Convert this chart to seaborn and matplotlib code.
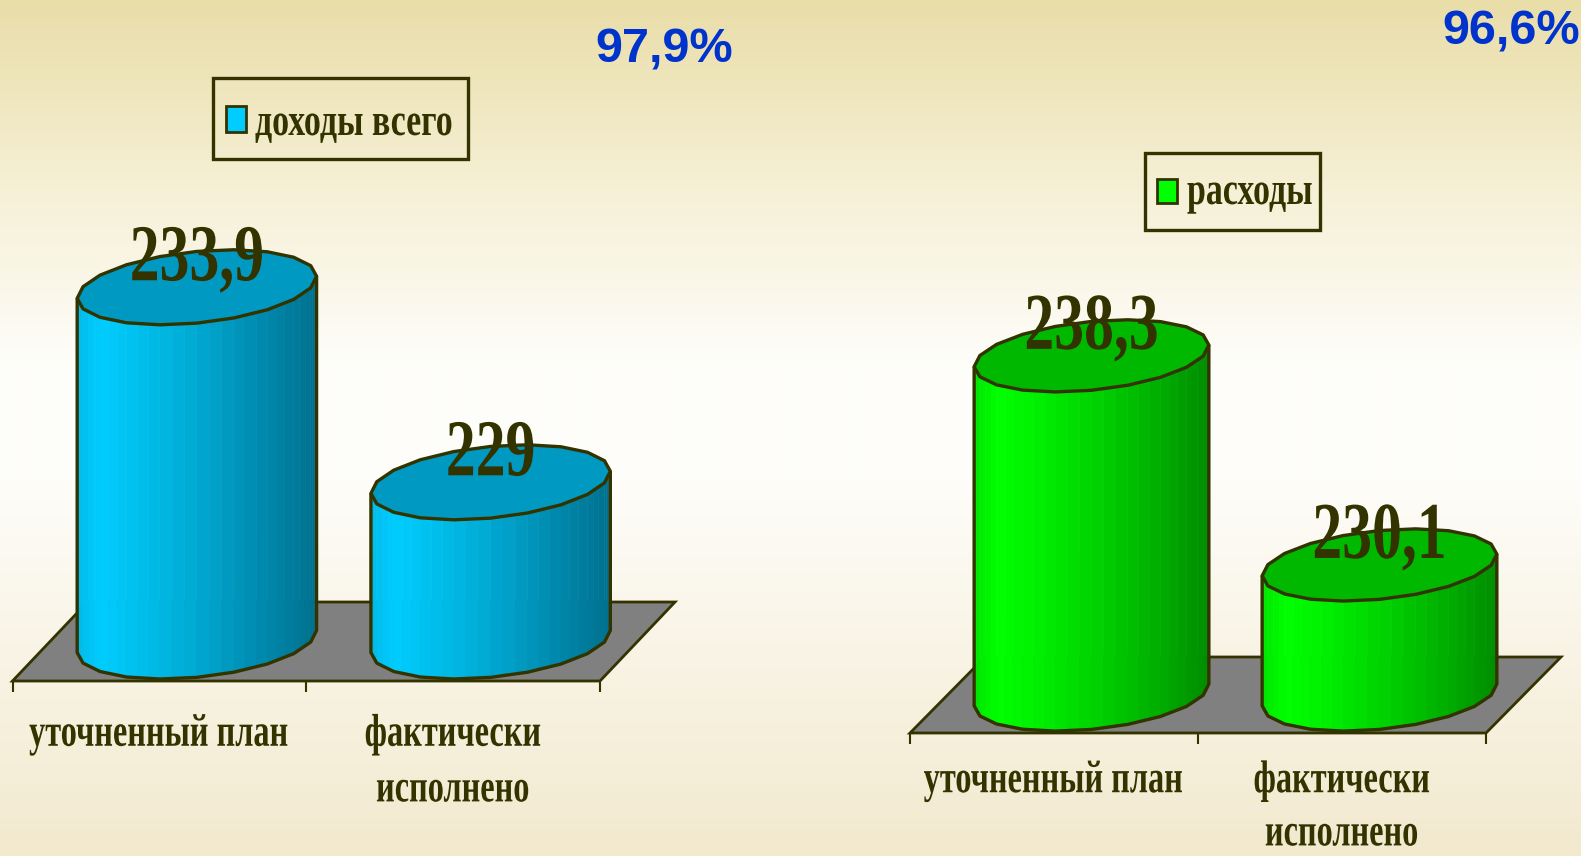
import numpy as np
import pandas as pd
import matplotlib
matplotlib.use("Agg")
import matplotlib.pyplot as plt
import matplotlib.transforms as mtransforms
from matplotlib.patches import Polygon, Rectangle
from matplotlib.collections import PolyCollection
from matplotlib import patheffects
import seaborn as sns

# ---------------- data ----------------
categories = ["уточненный план", "фактически\nисполнено"]
income_values = [233.9, 229.0]
expense_values = [238.3, 230.1]
income_labels = ["233,9", "229"]
expense_labels = ["238,3", "230,1"]
income_series = "доходы всего"
expense_series = "расходы"
income_pct = "97,9%"
expense_pct = "96,6%"
axis_base = 225.0

# ---------------- style ----------------
W, H = 1581, 856
OLIVE = "#333300"
SERIF = ["Liberation Serif", "DejaVu Serif"]
SANS = ["Liberation Sans", "DejaVu Sans"]

sns.set_style("white")

BLUE_SIDE = [(0.0, (0, 186, 232)), (0.1, (0, 204, 255)), (0.3, (0, 188, 232)),
             (0.55, (0, 163, 204)), (0.8, (0, 134, 170)), (1.0, (0, 112, 142))]
BLUE_TOP = "#0099C2"
GREEN_SIDE = [(0.0, (0, 228, 0)), (0.1, (0, 255, 0)), (0.3, (0, 236, 0)),
              (0.55, (0, 206, 0)), (0.8, (0, 172, 0)), (1.0, (0, 140, 0))]
GREEN_TOP = "#00B800"


class Stretch(patheffects.AbstractPathEffect):
    """Stretch glyphs vertically about the baseline (gives a condensed look)."""

    def __init__(self, sy):
        super().__init__()
        self.sy = sy

    def draw_path(self, renderer, gc, tpath, affine, rgbFace=None):
        tr = mtransforms.Affine2D().scale(1.0, self.sy) + affine
        renderer.draw_path(gc, tpath, tr, rgbFace)


def side_color(stops, t):
    ts = [s[0] for s in stops]
    cols = np.array([s[1] for s in stops], float) / 255.0
    return tuple(float(np.interp(t, ts, cols[:, i])) for i in range(3))


fig = plt.figure(figsize=(W / 100, H / 100), dpi=100)

# background gradient
bg = fig.add_axes([0, 0, 1, 1], zorder=-10)
ys = np.arange(H)
stop_y = [0, 190, 370, 480, H - 1]
stop_c = np.array([(233, 221, 168), (246, 240, 214), (254, 254, 251),
                   (254, 253, 249), (242, 233, 206)], float) / 255.0
grad = np.stack([np.interp(ys, stop_y, stop_c[:, i]) for i in range(3)], axis=-1)[:, None, :]
bg.imshow(grad, aspect="auto", extent=(0, 1, 0, 1))
bg.set_axis_off()


def draw_panel(px_left, px_right, px_base, px_per_unit, depth_px, values, labels,
               side_stops, top_color, label_pad, label_ls):
    ax = fig.add_axes([px_left / W, (H - px_base) / H, (px_right - px_left) / W, px_base / H])
    df = pd.DataFrame({"category": categories, "value": values})
    sns.barplot(data=df, x="category", y="value", ax=ax, width=0.815,
                color=side_color(side_stops, 0.3), saturation=1)
    bars = list(ax.patches)
    ax.set_xlim(-0.5, 1.5)
    ax.set_ylim(axis_base, axis_base + px_base / px_per_unit)
    ax.patch.set_alpha(0)
    for s in ax.spines.values():
        s.set_visible(False)
    ax.yaxis.set_visible(False)
    ax.set_xlabel("")
    ax.set_ylabel("")

    px_x = (px_right - px_left) / 2.0
    ux, uy = 1.0 / px_x, 1.0 / px_per_unit
    dxp, dyp = depth_px

    floor = Polygon([(-0.5, axis_base), (1.5, axis_base),
                     (1.5 + dxp * ux, axis_base + dyp * uy),
                     (-0.5 + dxp * ux, axis_base + dyp * uy)],
                    closed=True, fc="#808080", ec=OLIVE, lw=2, zorder=1, clip_on=False)
    ax.add_patch(floor)

    N, m = 20, 3
    for p, lab in zip(bars, labels):
        p.set_visible(False)
        xc = p.get_x() + p.get_width() / 2.0
        v = p.get_height()
        cx = xc + 0.5 * dxp * ux
        yb = axis_base + 0.5 * dyp * uy
        yt = v + 0.5 * dyp * uy
        hw = p.get_width() * px_x / 2.0
        Bp, Cp = 0.47 * dxp, 0.475 * dyp
        A = np.sqrt(hw ** 2 - Bp ** 2)
        phi = np.arctan2(Bp, A)
        th = phi + 2 * np.pi * np.arange(N + 1) / N

        def ring(yc):
            return (cx + (A * np.cos(th) + Bp * np.sin(th)) * ux,
                    yc + Cp * np.sin(th) * uy)

        bx, by = ring(yb)
        tx, ty = ring(yt)
        fb, ft = [], []
        for k in range(N // 2, N):
            for j in range(m):
                f = j / m
                fb.append((bx[k] + f * (bx[k + 1] - bx[k]), by[k] + f * (by[k + 1] - by[k])))
                ft.append((tx[k] + f * (tx[k + 1] - tx[k]), ty[k] + f * (ty[k + 1] - ty[k])))
        fb.append((bx[N], by[N]))
        ft.append((tx[N], ty[N]))
        xmin, xmax = bx[N // 2], bx[0]
        quads, cols = [], []
        for j in range(len(fb) - 1):
            quads.append([fb[j], fb[j + 1], ft[j + 1], ft[j]])
            t = (0.5 * (fb[j][0] + fb[j + 1][0]) - xmin) / (xmax - xmin)
            cols.append(side_color(side_stops, t))
        body = PolyCollection(quads, facecolors=cols, edgecolors=cols, linewidths=0.4,
                              zorder=2, clip_on=False)
        ax.add_collection(body, autolim=False)
        outline = [(tx[N // 2], ty[N // 2])] + [(bx[k], by[k]) for k in range(N // 2, N + 1)] \
            + [(tx[N], ty[N])]
        ax.add_patch(Polygon(outline, closed=False, fill=False, ec=OLIVE, lw=2.4,
                             joinstyle="round", zorder=3, clip_on=False))
        ax.add_patch(Polygon(list(zip(tx[:N], ty[:N])), closed=True, fc=top_color, ec=OLIVE,
                             lw=2.4, joinstyle="round", zorder=4, clip_on=False))
        txt = ax.text(cx, yt + 7 * uy, lab, ha="center", va="baseline", fontsize=43,
                      family=SERIF, weight="bold", color=OLIVE, zorder=10, clip_on=False)
        txt.set_path_effects([Stretch(1.35)])

    # ticks: boundaries (major) and category labels (minor)
    ax.set_xticks([-0.5, 0.5, 1.5])
    ax.set_xticklabels(["", "", ""])
    ax.set_xticks([0, 1], minor=True)
    ax.set_xticklabels(categories, minor=True)
    ax.tick_params(axis="x", which="major", bottom=True, length=8, width=1.5,
                   color=OLIVE, direction="out")
    ax.tick_params(axis="x", which="minor", bottom=True, length=0, pad=label_pad,
                   labelsize=23.3, labelcolor=OLIVE)
    for t in ax.get_xticklabels(minor=True):
        t.set_fontfamily(SERIF)
        t.set_fontweight("bold")
        t.set_linespacing(label_ls)
        t.set_path_effects([Stretch(1.42)])
    return ax


draw_panel(12.5, 600, 681, 39.8, (75, 79), income_values, income_labels,
           BLUE_SIDE, BLUE_TOP, 30.8, 2.21)
draw_panel(910, 1486, 733, 25.5, (75, 76), expense_values, expense_labels,
           GREEN_SIDE, GREEN_TOP, 26.8, 2.1)


# legends (drawn as boxed keys)
def legend_box(x0, y0, x1, y1, mx0, my0, mx1, my1, color, text, tx, tbase):
    fig.add_artist(Rectangle((x0 / W, 1 - y1 / H), (x1 - x0) / W, (y1 - y0) / H,
                             transform=fig.transFigure, fill=False, ec=OLIVE, lw=2.4))
    fig.add_artist(Rectangle((mx0 / W, 1 - my1 / H), (mx1 - mx0) / W, (my1 - my0) / H,
                             transform=fig.transFigure, fc=color, ec=OLIVE, lw=2))
    t = fig.text(tx / W, 1 - tbase / H, text, ha="left", va="baseline", fontsize=24.4,
                 family=SERIF, weight="bold", color=OLIVE)
    t.set_path_effects([Stretch(1.35)])


legend_box(213, 78, 468, 159, 226, 106, 246, 132, "#00CCFF", income_series, 255, 135)
legend_box(1145, 153, 1320, 230, 1157, 179, 1177, 203, "#00FF00", expense_series, 1187, 204)

fig.text(595 / W, 1 - 63 / H, income_pct, ha="left", va="baseline", fontsize=35,
         family=SANS, weight="bold", color="#0033CC")
fig.text(1442 / W, 1 - 45 / H, expense_pct, ha="left", va="baseline", fontsize=35,
         family=SANS, weight="bold", color="#0033CC")

fig.savefig("out.png", dpi=100)
